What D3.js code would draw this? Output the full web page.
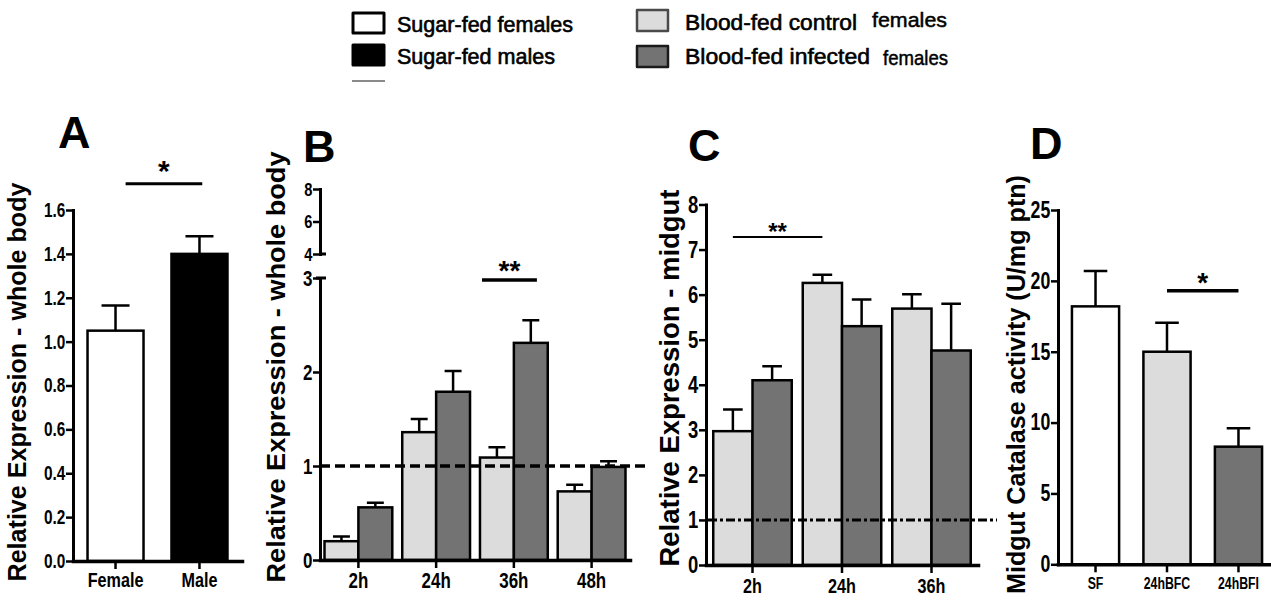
<!DOCTYPE html>
<html>
<head>
<meta charset="utf-8">
<script src="https://cdn.jsdelivr.net/npm/d3@7"></script>
<style>
  body { margin: 0; background: #fff; }
</style>
</head>
<body>
<svg id="chart" width="1271" height="605"></svg>
<script>
// legend labels
const legendLeft = ['Sugar-fed females', 'Sugar-fed males'];
const legendRight = ['Blood-fed control', 'Blood-fed infected'];
const legendRightSuffix = ['females', 'females'];

// panel A - whole body, sugar fed
const aGroups = ['Female', 'Male'];
const aMeans = [1.05, 1.40];
const aErr = [0.115, 0.08];
const aTicks = [0, 0.2, 0.4, 0.6, 0.8, 1.0, 1.2, 1.4, 1.6];

// panel B - whole body, blood fed
const bTimes = ['2h', '24h', '36h', '48h'];
const bControl = [0.20, 1.36, 1.09, 0.73];
const bControlErr = [0.05, 0.14, 0.11, 0.07];
const bInfected = [0.56, 1.79, 2.31, 0.99];
const bInfectedErr = [0.05, 0.22, 0.24, 0.06];
const bTicksLow = [0, 1, 2, 3];
const bTicksHigh = [4, 6, 8];

// panel C - midgut
const cTimes = ['2h', '24h', '36h'];
const cControl = [2.97, 6.26, 5.69];
const cControlErr = [0.48, 0.18, 0.32];
const cInfected = [4.10, 5.30, 4.76];
const cInfectedErr = [0.31, 0.59, 1.04];
const cTicks = [0, 1, 2, 3, 4, 5, 6, 7, 8];

// panel D - catalase activity
const dGroups = ['SF', '24hBFC', '24hBFI'];
const dMeans = [18.2, 15.0, 8.3];
const dErr = [2.5, 2.05, 1.3];
const dTicks = [0, 5, 10, 15, 20, 25];

const WHITE = '#ffffff', BLACK = '#000000', LIGHT = '#dcdcdc', DARK = '#737373';
const SANS = "'Liberation Sans', Arial, sans-serif";
// no narrow face installed, so tick labels get squeezed by hand
const SQUEEZE = 'scale(0.77,1)';

const svg = d3.select('#chart');

// helpers
function yAxis(scale, ticks, x, fmt, size) {
  const g = svg.append('g')
    .attr('transform', `translate(${x},0)`)
    .call(d3.axisLeft(scale).tickValues(ticks).tickFormat(fmt).tickSize(7).tickSizeOuter(0).tickPadding(3));
  g.attr('font-family', SANS).attr('font-weight', 'bold').attr('font-size', size);
  g.select('.domain').attr('stroke-width', 3).attr('stroke-linecap', 'square');
  g.selectAll('.tick line').attr('stroke-width', 2.5);
  g.selectAll('.tick text').attr('fill', BLACK).attr('transform', SQUEEZE);
  return g;
}

function xAxis(scale, y, size, pad) {
  const g = svg.append('g')
    .attr('transform', `translate(0,${y})`)
    .call(d3.axisBottom(scale).tickSize(8).tickSizeOuter(0).tickPadding(pad));
  g.attr('font-family', SANS).attr('font-weight', 'bold').attr('font-size', size);
  g.select('.domain').attr('stroke-width', 3.5).attr('stroke-linecap', 'square');
  g.selectAll('.tick line').attr('stroke-width', 2.5);
  g.selectAll('.tick text').attr('fill', BLACK).attr('transform', SQUEEZE);
  return g;
}

function bars(rows, yScale) {
  const g = svg.append('g');
  g.selectAll('rect').data(rows).join('rect')
    .attr('x', d => d.x)
    .attr('y', d => yScale(d.v))
    .attr('width', d => d.w)
    .attr('height', d => yScale(0) - yScale(d.v))
    .attr('fill', d => d.fill)
    .attr('stroke', BLACK)
    .attr('stroke-width', 2.5);
  // upper error bars
  g.selectAll('path.err').data(rows).join('path')
    .attr('class', 'err')
    .attr('fill', 'none')
    .attr('stroke', BLACK)
    .attr('stroke-width', 2.5)
    .attr('d', d => {
      const cx = d.x + d.w / 2, top = yScale(d.v + d.e), cw = d.w * 0.25;
      return `M${cx},${yScale(d.v)}V${top}M${cx - cw},${top}H${cx + cw}`;
    });
}

function sig(x1, x2, y, mark, size, dy, width) {
  svg.append('line')
    .attr('x1', x1).attr('x2', x2).attr('y1', y).attr('y2', y)
    .attr('stroke', BLACK).attr('stroke-width', width);
  svg.append('text')
    .attr('x', (x1 + x2) / 2).attr('y', y + dy)
    .attr('text-anchor', 'middle')
    .attr('font-family', SANS).attr('font-weight', 'bold').attr('font-size', size)
    .text(mark);
}

function yTitle(text, cx, cy, size, len) {
  svg.append('text')
    .attr('transform', `translate(${cx + size * 0.36},${cy}) rotate(-90)`)
    .attr('text-anchor', 'middle')
    .attr('font-family', SANS).attr('font-weight', 'bold').attr('font-size', size)
    .attr('textLength', len).attr('lengthAdjust', 'spacingAndGlyphs')
    .text(text);
}

function panelLetter(letter, x, y) {
  svg.append('text')
    .attr('x', x).attr('y', y)
    .attr('font-family', SANS).attr('font-weight', 'bold').attr('font-size', 45)
    .text(letter);
}

// ---------- legend ----------
const legend = svg.append('g')
  .attr('font-family', SANS)
  .attr('stroke-linejoin', 'round');
legend.selectAll('rect.left').data(legendLeft).join('rect')
  .attr('class', 'left')
  .attr('x', 353).attr('y', (d, i) => 13 + i * 32)
  .attr('width', 31).attr('height', 20)
  .attr('fill', (d, i) => i === 0 ? WHITE : BLACK)
  .attr('stroke', BLACK).attr('stroke-width', 3);
legend.selectAll('text.left').data(legendLeft).join('text')
  .attr('class', 'left')
  .attr('x', 397).attr('y', (d, i) => 32 + i * 31.5)
  .attr('font-size', 21.5)
  .attr('stroke', BLACK).attr('stroke-width', 0.6)
  .attr('textLength', (d, i) => i === 0 ? 176 : 158).attr('lengthAdjust', 'spacingAndGlyphs')
  .text(d => d);
legend.append('line')
  .attr('x1', 352).attr('x2', 385).attr('y1', 81).attr('y2', 81)
  .attr('stroke', '#8a8a8a').attr('stroke-width', 2);
legend.selectAll('rect.right').data(legendRight).join('rect')
  .attr('class', 'right')
  .attr('x', 637).attr('y', (d, i) => 10 + i * 36)
  .attr('width', 31).attr('height', 21)
  .attr('fill', (d, i) => i === 0 ? LIGHT : DARK)
  .attr('stroke', (d, i) => i === 0 ? '#4a4a4a' : '#1a1a1a').attr('stroke-width', 2.5);
legend.selectAll('text.right').data(legendRight).join('text')
  .attr('class', 'right')
  .attr('x', 685).attr('y', (d, i) => 29.5 + i * 34)
  .attr('font-size', 22)
  .attr('stroke', BLACK).attr('stroke-width', 0.6)
  .attr('textLength', (d, i) => i === 0 ? 172 : 185).attr('lengthAdjust', 'spacingAndGlyphs')
  .text(d => d);
legend.selectAll('text.suffix').data(legendRightSuffix).join('text')
  .attr('class', 'suffix')
  .attr('x', (d, i) => i === 0 ? 872 : 883).attr('y', (d, i) => i === 0 ? 26.5 : 65)
  .attr('font-size', 21)
  .attr('stroke', BLACK).attr('stroke-width', 0.5)
  .attr('textLength', (d, i) => i === 0 ? 75 : 65).attr('lengthAdjust', 'spacingAndGlyphs')
  .text(d => d);

// ---------- panel A ----------
const xA = d3.scaleBand().domain(aGroups).range([73, 242]).paddingInner(0.333).paddingOuter(0.173);
const yA = d3.scaleLinear().domain([0, 1.6]).range([561, 210]);
bars(aGroups.map((g, i) => ({x: xA(g), w: xA.bandwidth(), v: aMeans[i], e: aErr[i], fill: i === 0 ? WHITE : BLACK})), yA);
yAxis(yA, aTicks, 73, d3.format('.1f'), 20);
xAxis(xA, 561, 21, 3);
sig(xA('Female') + xA.bandwidth() * 0.68, xA('Male') + xA.bandwidth() * 0.55, yA(1.72), '*', 30, -3, 3);
yTitle('Relative Expression - whole body', 17, 382, 25, 399);
panelLetter('A', 58, 148);

// ---------- panel B (broken axis) ----------
const xB = d3.scaleBand().domain(bTimes).range([320, 630]).paddingInner(0.128).paddingOuter(0.058);
const sB = d3.scaleBand().domain(['control', 'infected']).range([0, xB.bandwidth()]);
const yB = d3.scaleLinear().domain([0, 3]).range([560, 278]);
const yBHigh = d3.scaleLinear().domain([4, 8]).range([254, 189]);
const bRows = [];
bTimes.forEach((t, i) => {
  bRows.push({x: xB(t) + sB('control'), w: sB.bandwidth(), v: bControl[i], e: bControlErr[i], fill: LIGHT});
  bRows.push({x: xB(t) + sB('infected'), w: sB.bandwidth(), v: bInfected[i], e: bInfectedErr[i], fill: DARK});
});
bars(bRows, yB);
svg.append('line')
  .attr('x1', xB.range()[0]).attr('x2', xB.range()[1] + 15)
  .attr('y1', yB(1)).attr('y2', yB(1))
  .attr('stroke', BLACK).attr('stroke-width', 3.5).attr('stroke-dasharray', '10,5');
yAxis(yB, bTicksLow, 320, d3.format('d'), 22);
yAxis(yBHigh, bTicksHigh, 320, d3.format('d'), 19);
// break caps
svg.append('path')
  .attr('d', `M316,${yB(3)}H326M320,${yBHigh(4)}H326`)
  .attr('stroke', BLACK).attr('stroke-width', 3);
xAxis(xB, 560, 22, 4);
sig(xB('36h') + 2, xB('36h') + xB.bandwidth() * 0.84, yB(2.98), '**', 28, 0, 3.5);
yTitle('Relative Expression - whole body', 276, 367, 26, 431);
panelLetter('B', 303, 162);

// ---------- panel C ----------
const xC = d3.scaleBand().domain(cTimes).range([706, 978]).paddingInner(0.123).paddingOuter(0.081);
const sC = d3.scaleBand().domain(['control', 'infected']).range([0, xC.bandwidth()]);
const yC = d3.scaleLinear().domain([0, 8]).range([565, 204.5]);
const cRows = [];
cTimes.forEach((t, i) => {
  cRows.push({x: xC(t) + sC('control'), w: sC.bandwidth(), v: cControl[i], e: cControlErr[i], fill: LIGHT});
  cRows.push({x: xC(t) + sC('infected'), w: sC.bandwidth(), v: cInfected[i], e: cInfectedErr[i], fill: DARK});
});
bars(cRows, yC);
svg.append('line')
  .attr('x1', xC.range()[0] + 2).attr('x2', xC.range()[1] + 19)
  .attr('y1', yC(1)).attr('y2', yC(1))
  .attr('stroke', BLACK).attr('stroke-width', 3).attr('stroke-dasharray', '9,3,3,3');
yAxis(yC, cTicks, 706, d3.format('d'), 24);
xAxis(xC, 565, 21, 5);
sig(xC('2h') + sC('control') + sC.bandwidth() / 2, xC('24h') + sC('control') + sC.bandwidth() / 2, yC(7.28), '**', 24, 3, 2);
yTitle('Relative Expression - midgut', 669, 378, 27, 377);
panelLetter('C', 688, 161);

// ---------- panel D ----------
const xD = d3.scaleBand().domain(dGroups).range([1058, 1276]).paddingInner(0.34).paddingOuter(0.195);
const yD = d3.scaleLinear().domain([0, 25]).range([564.3, 210]);
const dFills = [WHITE, LIGHT, DARK];
bars(dGroups.map((g, i) => ({x: xD(g), w: xD.bandwidth(), v: dMeans[i], e: dErr[i], fill: dFills[i]})), yD);
yAxis(yD, dTicks, 1058, d3.format('d'), 23);
xAxis(xD, 564.3, 16, 5);
sig(xD('24hBFC') + xD.bandwidth() / 2, xD('24hBFI') + xD.bandwidth() / 2, yD(19.3), '*', 28, 1, 3.5);
yTitle('Midgut Catalase activity (U/mg ptn)', 1016, 384.5, 25, 419);
panelLetter('D', 1030, 159);
</script>
</body>
</html>
